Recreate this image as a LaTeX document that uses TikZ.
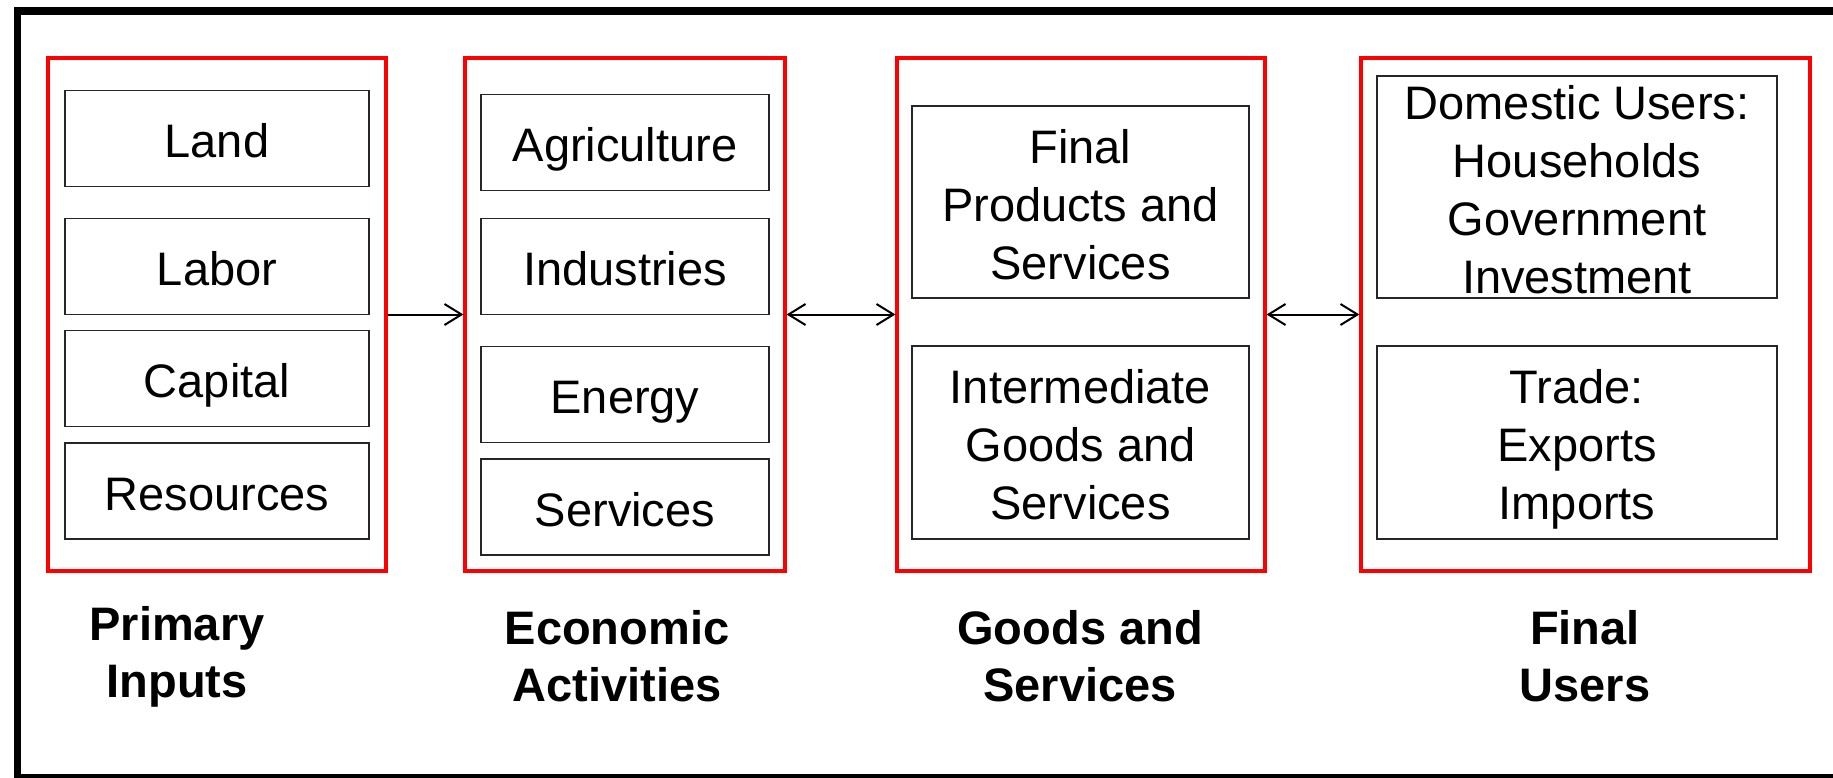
\documentclass[tikz,border=0pt]{standalone}
\usepackage{fontspec}
\setmainfont{Liberation Sans}
\usetikzlibrary{arrows.meta}
\begin{document}
\begin{tikzpicture}[x=1pt,y=-1pt,
  group/.style={draw=red, line width=3.2pt, minimum height=513pt, inner sep=0pt},
  ibox/.style={draw=black!85, line width=1.6pt, inner sep=0pt, align=center,
    text height=38pt, text depth=0pt,
    font=\fontsize{47}{58}\selectfont},
  threelines/.style={text height=154pt},
  fourlines/.style={text height=212pt},
  caption/.style={align=center, font=\fontsize{47}{57}\selectfont\bfseries},
  flow/.style={line width=2pt, -{Straight Barb[length=17pt,width=21pt]}},
  twoway/.style={line width=2pt, {Straight Barb[length=17pt,width=21pt]}-{Straight Barb[length=17pt,width=21pt]}}
]
\useasboundingbox (0,0) rectangle (1833,777);
% outer frame, open on the right
\begin{scope}
  \clip (0,0) rectangle (1833,777);
  \draw[line width=7.5pt] (17.5,11) rectangle (1900,778);
\end{scope}

% column groups
\node[group, minimum width=338pt] (g1) at (217,314.5) {};
\node[group, minimum width=320pt] (g2) at (625,314.5) {};
\node[group, minimum width=368pt] (g3) at (1081,314.5) {};
\node[group, minimum width=449pt] (g4) at (1585.5,314.5) {};

% primary inputs
\node[ibox, minimum width=304pt, minimum height=96pt] (land) at (217,138.5) {Land};
\node[ibox, minimum width=304pt, minimum height=96pt] (labor) at (217,266.5) {Labor};
\node[ibox, minimum width=304pt, minimum height=96pt] (capital) at (217,378.5) {Capital};
\node[ibox, minimum width=304pt, minimum height=96pt] (resources) at (217,491) {Resources};

% economic activities
\node[ibox, minimum width=288pt, minimum height=96pt] (agri) at (625,142.5) {Agriculture};
\node[ibox, minimum width=288pt, minimum height=96pt] (ind) at (625,266.5) {Industries};
\node[ibox, minimum width=288pt, minimum height=96pt] (energy) at (625,394.5) {Energy};
\node[ibox, minimum width=288pt, minimum height=96pt] (serv) at (625,507) {Services};

% goods and services
\node[ibox, threelines, minimum width=337pt, minimum height=192pt] (final) at (1080.5,202) {Final\\Products and\\Services};
\node[ibox, threelines, minimum width=337pt, minimum height=193pt] (inter) at (1080.5,442.5) {Intermediate\\Goods and\\Services};

% final users
\node[ibox, fourlines, minimum width=400pt, minimum height=222pt] (dom) at (1577,187) {Domestic Users:\\Households\\Government\\Investment};
\node[ibox, threelines, minimum width=400pt, minimum height=193pt] (trade) at (1577,442.5) {Trade:\\Exports\\Imports};

% connectors
\draw[flow] (g1.east) -- (g2.west);
\draw[twoway] (g2.east) -- (g3.west);
\draw[twoway] (g3.east) -- (g4.west);

% captions
\node[caption] (c1) at (177,657) {Primary\\Inputs};
\node[caption] (c2) at (617,656) {Economic\\Activities};
\node[caption] (c3) at (1080,656) {Goods and\\Services};
\node[caption] (c4) at (1585,656) {Final\\Users};
\end{tikzpicture}
\end{document}
